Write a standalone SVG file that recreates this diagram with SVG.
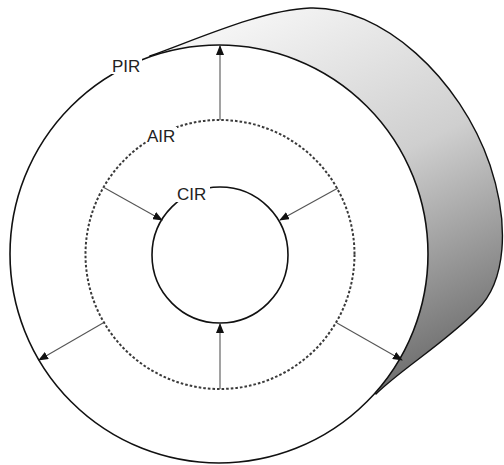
<svg xmlns="http://www.w3.org/2000/svg" width="504" height="465" viewBox="0 0 504 465">
<defs>
<linearGradient id="shade" gradientUnits="userSpaceOnUse" x1="250" y1="20" x2="430" y2="390">
<stop offset="0" stop-color="#f4f4f4"/>
<stop offset="0.45" stop-color="#cfcfcf"/>
<stop offset="1" stop-color="#666"/>
</linearGradient>
<marker id="ah" markerWidth="10" markerHeight="8" refX="9" refY="4" orient="auto" markerUnits="userSpaceOnUse">
<path d="M0,0 L10,4 L0,8 z" fill="#111"/>
</marker>
<style>
.ring{fill:none;stroke:#111;stroke-width:1.6}
.dots{fill:none;stroke:#3a3a3a;stroke-width:2;stroke-dasharray:2.6 2}
.arr{stroke:#555;stroke-width:1.1;fill:none;marker-end:url(#ah)}
.lbl{font-family:"Liberation Sans",Arial,sans-serif;font-size:17px;fill:#222}
.bg{fill:#fff}
</style>
</defs>
<rect width="504" height="465" fill="#fff"/>
<g id="cylinder-body">
<path d="M150,56 C200,38 262,10 310,8 C382,6 460,78 490,165 C510,225 506,282 477,310 C446,342 400,370 376,394 Z" fill="url(#shade)" stroke="#111" stroke-width="1.4"/>
</g>
<g id="pir-circle">
<circle cx="219" cy="254" r="209" fill="#fff" stroke="#111" stroke-width="1.6"/>
</g>
<g id="air-circle">
<circle cx="220" cy="254.5" r="134.5" class="dots"/>
</g>
<g id="cir-circle">
<circle cx="220" cy="255" r="68" class="ring"/>
</g>
<g id="connectors">
<line class="arr" x1="220" y1="120" x2="220" y2="46"/>
<line class="arr" x1="220" y1="389" x2="220" y2="324"/>
<line class="arr" x1="103" y1="187" x2="162" y2="220"/>
<line class="arr" x1="338" y1="188" x2="280" y2="220"/>
<line class="arr" x1="103" y1="323" x2="39" y2="360"/>
<line class="arr" x1="337" y1="323" x2="402" y2="360"/>
</g>
<g id="label-pir">
<rect class="bg" x="111" y="57" width="31" height="17"/>
<text class="lbl" x="112" y="72">PIR</text>
</g>
<g id="label-air">
<rect class="bg" x="146" y="127" width="31" height="17"/>
<text class="lbl" x="147" y="142">AIR</text>
</g>
<g id="label-cir">
<rect class="bg" x="176" y="185" width="34" height="17"/>
<text class="lbl" x="177" y="200">CIR</text>
</g>
</svg>
